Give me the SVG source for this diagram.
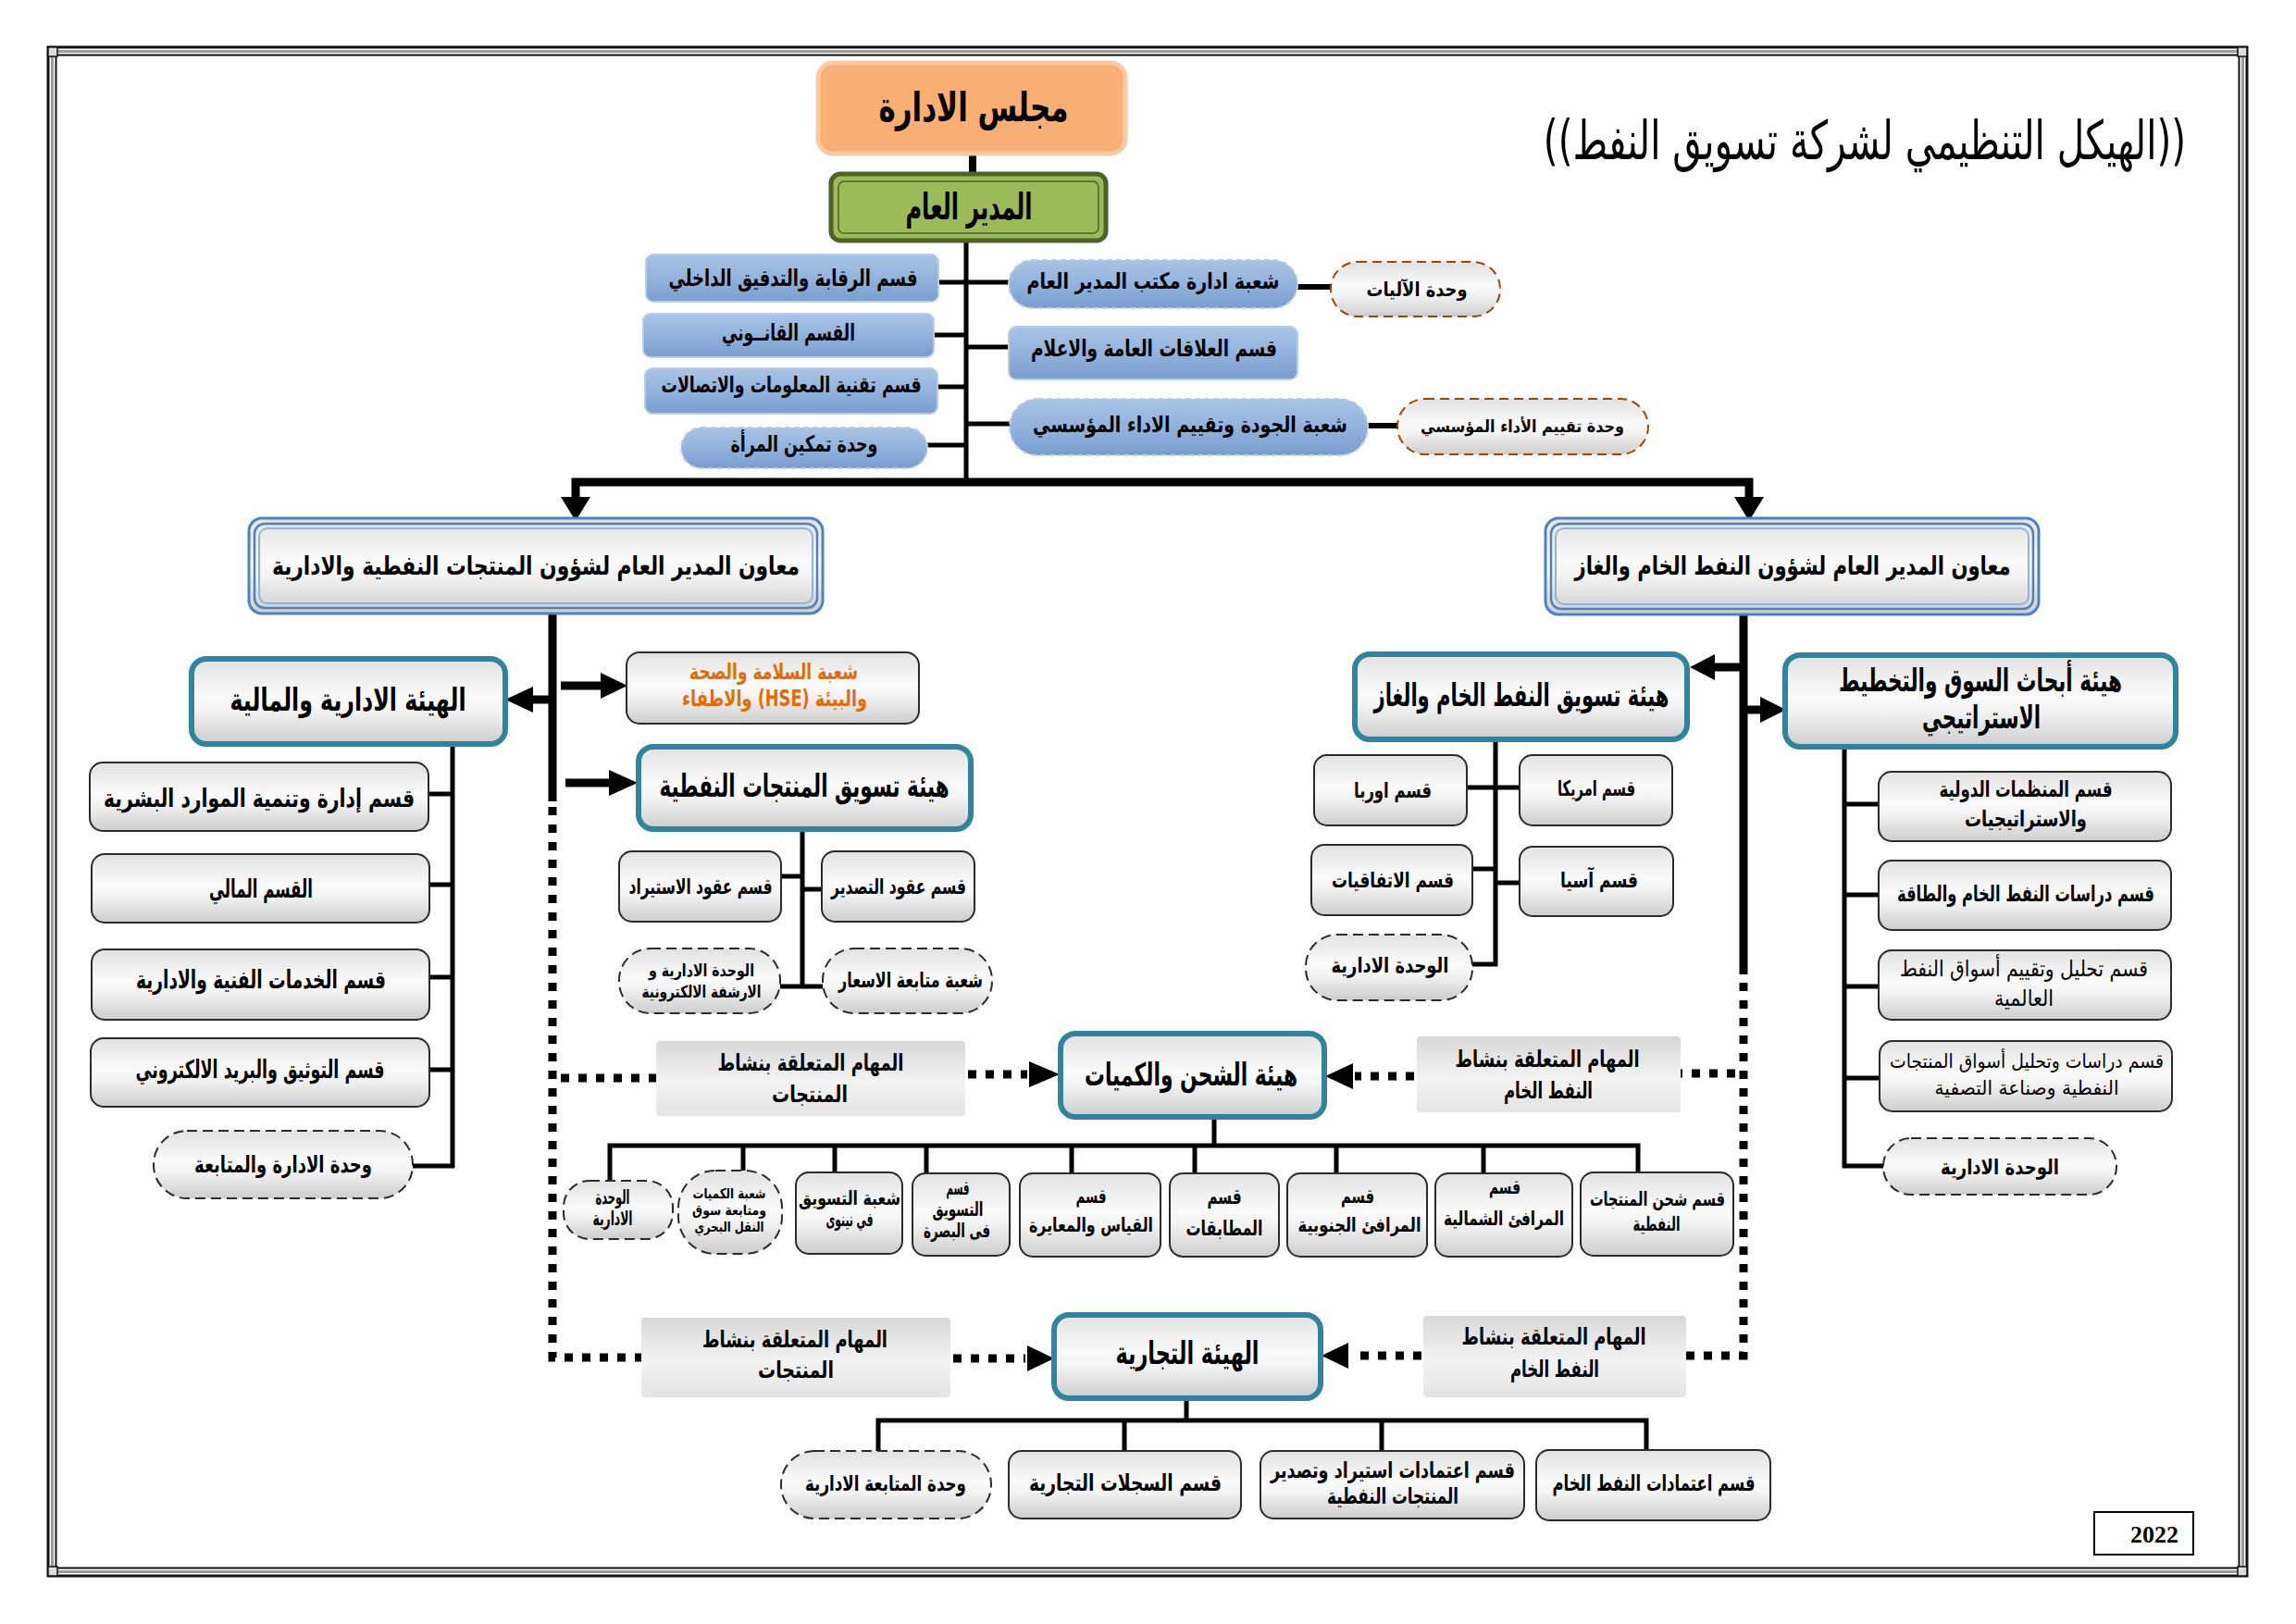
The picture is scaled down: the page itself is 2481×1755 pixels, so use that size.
<svg xmlns="http://www.w3.org/2000/svg" width="2481" height="1755" viewBox="0 0 2481 1755">
<defs>
<linearGradient id="gGray" x1="0" y1="0" x2="0" y2="1">
<stop offset="0" stop-color="#E2E2E2"/><stop offset="0.45" stop-color="#FAFAFA"/><stop offset="0.6" stop-color="#F4F4F4"/><stop offset="1" stop-color="#CDCDCD"/>
</linearGradient>
<linearGradient id="gBlue" x1="0" y1="0" x2="0" y2="1">
<stop offset="0" stop-color="#A9C3E5"/><stop offset="0.5" stop-color="#93B3DD"/><stop offset="1" stop-color="#7A9DCF"/>
</linearGradient>
<linearGradient id="gTask" x1="0" y1="0" x2="0" y2="1">
<stop offset="0" stop-color="#D8D8D8"/><stop offset="0.55" stop-color="#F3F3F3"/><stop offset="1" stop-color="#E4E4E4"/>
</linearGradient>
<style>
.box{fill:url(#gGray);stroke:#2b2b2b;stroke-width:2}
.dash{fill:url(#gGray);stroke:#2b2b2b;stroke-width:2;stroke-dasharray:11 6}
.teal{fill:url(#gGray);stroke:#31849B;stroke-width:6}
.blue{fill:url(#gBlue);stroke:#B9CDE5;stroke-width:2}
.bluedash{fill:url(#gBlue);stroke:#B9CDE5;stroke-width:2;stroke-dasharray:6 4}
.brown{fill:url(#gGray);stroke:#984807;stroke-width:2;stroke-dasharray:10 6}
.task{fill:url(#gTask);stroke:none}
.dep1{fill:url(#gGray);stroke:#4F81BD;stroke-width:3}
.dep2{fill:none;stroke:#4F81BD;stroke-width:2.5}
.dep3{fill:none;stroke:#8DB3E2;stroke-width:2}
.ln{stroke:#000;fill:none;stroke-width:5}
.thick{stroke:#000;stroke-width:9;fill:none}
.dot{stroke:#000;stroke-width:9;stroke-dasharray:9 10;fill:none}
.ah{fill:#000}
.fr1{fill:none;stroke:#111;stroke-width:3}
.fr2{fill:none;stroke:#9A9A9A;stroke-width:3}
.fr3{fill:none;stroke:#111;stroke-width:2}
.tx{font-family:"DejaVu Sans",sans-serif;font-weight:bold;text-anchor:middle;direction:rtl;fill:#000}
.reg{font-weight:normal}
.f15{font-size:15px}.f18{font-size:18px}.f19{font-size:19px}.f21{font-size:21px}.f23{font-size:23px}.f24{font-size:24px}.f25{font-size:25px}.f27{font-size:27px}.f28{font-size:28px}.f34{font-size:34px}.f40{font-size:40px}.f44{font-size:44px}
.orange{fill:#E36C0A}
</style>
</defs>
<rect width="2481" height="1755" fill="#FFFFFF"/>
<g id="frame">
<rect class="fr1" x="52" y="51" width="2376" height="1652"/>
<rect class="fr2" x="56.5" y="55.5" width="2367" height="1643"/>
<rect class="fr3" x="60.5" y="59.5" width="2359" height="1635"/>
<rect x="52" y="51" width="10" height="10" fill="#DDD" stroke="#111" stroke-width="1.5"/>
<rect x="2418" y="51" width="10" height="10" fill="#DDD" stroke="#111" stroke-width="1.5"/>
<rect x="52" y="1693" width="10" height="10" fill="#DDD" stroke="#111" stroke-width="1.5"/>
<rect x="2418" y="1693" width="10" height="10" fill="#DDD" stroke="#111" stroke-width="1.5"/>
</g>
<g id="title"><text transform="translate(2015,172) scale(0.70,1)" x="0" y="0" style="font-family:'DejaVu Sans',sans-serif;font-size:58px;text-anchor:middle;direction:ltr;fill:#000">((الهيكل التنظيمي لشركة تسويق النفط))</text></g>

<g id="connectors">
<line class="thick" x1="1051" y1="166" x2="1051" y2="188" style="stroke-width:8"/>
<line class="ln" x1="1044" y1="260" x2="1044" y2="521"/>
<line class="ln" x1="1014" y1="305" x2="1044" y2="305"/>
<line class="ln" x1="1009" y1="362" x2="1044" y2="362"/>
<line class="ln" x1="1013" y1="418" x2="1044" y2="418"/>
<line class="ln" x1="1002" y1="481" x2="1044" y2="481"/>
<line class="ln" x1="1044" y1="305" x2="1090" y2="305"/>
<line class="ln" x1="1044" y1="375" x2="1090" y2="375"/>
<line class="ln" x1="1044" y1="458" x2="1091" y2="458"/>
<line class="ln" x1="1402" y1="310" x2="1438" y2="310" style="stroke-width:6"/>
<line class="ln" x1="1478" y1="460" x2="1510" y2="460" style="stroke-width:6"/>
<path class="thick" d="M622,540 V521 H1890 V540"/>
<polygon class="ah" points="606,537 638,537 622,563"/>
<polygon class="ah" points="1874,537 1906,537 1890,563"/>
<line class="thick" x1="597" y1="663" x2="597" y2="866"/>
<path class="dot" d="M597,872 V1467 H693"/>
<line class="dot" x1="606" y1="1165" x2="709" y2="1165"/>
<line class="thick" x1="597" y1="756" x2="572" y2="756"/>
<polygon class="ah" points="576,742 576,770 546,756"/>
<line class="thick" x1="606" y1="741" x2="652" y2="741"/>
<polygon class="ah" points="649,727 649,755 678,741"/>
<line class="thick" x1="611" y1="846" x2="660" y2="846"/>
<polygon class="ah" points="658,832 658,860 689,846"/>
<line class="ln" x1="489" y1="804" x2="489" y2="1262"/>
<line class="ln" x1="463" y1="858" x2="489" y2="858"/>
<line class="ln" x1="464" y1="956" x2="489" y2="956"/>
<line class="ln" x1="464" y1="1056" x2="489" y2="1056"/>
<line class="ln" x1="464" y1="1156" x2="489" y2="1156"/>
<line class="ln" x1="446" y1="1260" x2="491" y2="1260"/>
<line class="ln" x1="867" y1="896" x2="867" y2="1068"/>
<line class="ln" x1="844" y1="947" x2="867" y2="947"/>
<line class="ln" x1="867" y1="961" x2="888" y2="961"/>
<line class="ln" x1="843" y1="1066" x2="889" y2="1066"/>
<line class="thick" x1="1884" y1="664" x2="1884" y2="1053"/>
<path class="dot" d="M1884,1062 V1465 H1822"/>
<line class="dot" x1="1875" y1="1160" x2="1816" y2="1160"/>
<line class="thick" x1="1884" y1="721" x2="1850" y2="721"/>
<polygon class="ah" points="1853,707 1853,735 1826,721"/>
<line class="thick" x1="1884" y1="767" x2="1905" y2="767"/>
<polygon class="ah" points="1902,753 1902,781 1930,767"/>
<line class="ln" x1="1616" y1="799" x2="1616" y2="1044"/>
<line class="ln" x1="1585" y1="851" x2="1642" y2="851"/>
<line class="ln" x1="1591" y1="939" x2="1616" y2="939"/>
<line class="ln" x1="1616" y1="954" x2="1642" y2="954"/>
<line class="ln" x1="1591" y1="1042" x2="1618" y2="1042"/>
<line class="ln" x1="1993" y1="807" x2="1993" y2="1262"/>
<line class="ln" x1="1993" y1="869" x2="2030" y2="869"/>
<line class="ln" x1="1993" y1="967" x2="2030" y2="967"/>
<line class="ln" x1="1993" y1="1066" x2="2030" y2="1066"/>
<line class="ln" x1="1993" y1="1165" x2="2031" y2="1165"/>
<line class="ln" x1="1991" y1="1260" x2="2035" y2="1260"/>
<line class="dot" x1="1046" y1="1161" x2="1110" y2="1161"/>
<polygon class="ah" points="1112,1147 1112,1175 1145,1161"/>
<line class="dot" x1="1528" y1="1163" x2="1464" y2="1163"/>
<polygon class="ah" points="1462,1149 1462,1177 1432,1163"/>
<line class="dot" x1="1030" y1="1468" x2="1108" y2="1468"/>
<polygon class="ah" points="1110,1454 1110,1482 1139,1468"/>
<line class="dot" x1="1536" y1="1465" x2="1460" y2="1465"/>
<polygon class="ah" points="1457,1451 1457,1479 1428,1465"/>
<line class="ln" x1="1312" y1="1207" x2="1312" y2="1238"/>
<path class="ln" d="M659,1276 V1238 H1770 V1267"/>
<line class="ln" x1="803" y1="1238" x2="803" y2="1265"/>
<line class="ln" x1="902" y1="1238" x2="902" y2="1267"/>
<line class="ln" x1="1001" y1="1238" x2="1001" y2="1268"/>
<line class="ln" x1="1158" y1="1238" x2="1158" y2="1268"/>
<line class="ln" x1="1291" y1="1238" x2="1291" y2="1268"/>
<line class="ln" x1="1444" y1="1238" x2="1444" y2="1268"/>
<line class="ln" x1="1603" y1="1238" x2="1603" y2="1268"/>
<line class="ln" x1="1282" y1="1511" x2="1282" y2="1535"/>
<path class="ln" d="M949,1568 V1535 H1779 V1567"/>
<line class="ln" x1="1215" y1="1535" x2="1215" y2="1568"/>
<line class="ln" x1="1493" y1="1535" x2="1493" y2="1568"/>
</g>

<g id="board"><rect x="884" y="68" width="332" height="98" rx="16" fill="#F9AE74" stroke="#FBC9A2" stroke-width="5"/><rect x="891" y="75" width="318" height="84" rx="11" fill="none" stroke="#F3B487" stroke-width="1.5"/><text class="tx f44" x="1052" y="131" textLength="205" lengthAdjust="spacingAndGlyphs">مجلس الادارة</text></g>
<g id="gm"><rect x="898" y="188" width="297" height="72" rx="10" fill="#9BBB59" stroke="#4F6228" stroke-width="5"/><rect x="906" y="196" width="281" height="56" rx="6" fill="none" stroke="#4F6228" stroke-width="1.5"/><text class="tx f40" x="1047" y="237" textLength="137" lengthAdjust="spacingAndGlyphs">المدير العام</text></g>

<g id="b1"><rect class="blue" x="698" y="275" width="316" height="51" rx="8"/><text class="tx f25" x="857" y="309" textLength="269" lengthAdjust="spacingAndGlyphs">قسم الرقابة والتدقيق الداخلي</text></g>
<g id="b2"><rect class="blue" x="695" y="339" width="314" height="47" rx="8"/><text class="tx f25" x="852" y="368" textLength="144" lengthAdjust="spacingAndGlyphs">القسم القانــوني</text></g>
<g id="b3"><rect class="blue" x="697" y="398" width="316" height="49" rx="8"/><text class="tx f24" x="855" y="424" textLength="281" lengthAdjust="spacingAndGlyphs">قسم تقنية المعلومات والاتصالات</text></g>
<g id="b4"><rect class="bluedash" x="736" y="462" width="266" height="44" rx="22"/><text class="tx f24" x="869" y="488" textLength="159" lengthAdjust="spacingAndGlyphs">وحدة تمكين المرأة</text></g>
<g id="b5"><rect class="bluedash" x="1090" y="281" width="312" height="52" rx="26"/><text class="tx f24" x="1246" y="312" textLength="273" lengthAdjust="spacingAndGlyphs">شعبة ادارة مكتب المدير العام</text></g>
<g id="b6"><rect class="blue" x="1090" y="353" width="312" height="57" rx="8"/><text class="tx f25" x="1247" y="385" textLength="266" lengthAdjust="spacingAndGlyphs">قسم العلاقات العامة والاعلام</text></g>
<g id="b7"><rect class="bluedash" x="1091" y="431" width="387" height="61" rx="30"/><text class="tx f24" x="1286" y="467" textLength="340" lengthAdjust="spacingAndGlyphs">شعبة الجودة وتقييم الاداء المؤسسي</text></g>
<g id="u1"><rect class="brown" x="1438" y="283" width="183" height="59" rx="29"/><text class="tx f21" x="1531" y="320" textLength="109" lengthAdjust="spacingAndGlyphs">وحدة الآليات</text></g>
<g id="u2"><rect class="brown" x="1510" y="431" width="271" height="60" rx="30"/><text class="tx f18" x="1645" y="467" textLength="220" lengthAdjust="spacingAndGlyphs">وحدة تقييم الأداء المؤسسي</text></g>

<g id="dep-left"><rect class="dep1" x="269" y="560" width="620" height="103" rx="14"/><rect class="dep2" x="275" y="566" width="608" height="91" rx="11"/><rect class="dep3" x="280" y="571" width="598" height="81" rx="9"/><text class="tx f28" x="579" y="621" textLength="570" lengthAdjust="spacingAndGlyphs">معاون المدير العام لشؤون المنتجات النفطية والادارية</text></g>
<g id="dep-right"><rect class="dep1" x="1670" y="560" width="533" height="104" rx="14"/><rect class="dep2" x="1676" y="566" width="521" height="92" rx="11"/><rect class="dep3" x="1681" y="571" width="511" height="82" rx="9"/><text class="tx f28" x="1937" y="621" textLength="471" lengthAdjust="spacingAndGlyphs">معاون المدير العام لشؤون النفط الخام والغاز</text></g>

<g id="t1"><rect class="teal" x="207" y="712" width="339" height="92" rx="16"/><text class="tx f34" x="376" y="768" textLength="255" lengthAdjust="spacingAndGlyphs">الهيئة الادارية والمالية</text></g>
<g id="g1"><rect class="box" x="97" y="824" width="366" height="74" rx="14"/><text class="tx f27" x="280" y="872" textLength="336" lengthAdjust="spacingAndGlyphs">قسم إدارة وتنمية الموارد البشرية</text></g>
<g id="g2"><rect class="box" x="99" y="923" width="365" height="74" rx="14"/><text class="tx f27" x="282" y="970" textLength="112" lengthAdjust="spacingAndGlyphs">القسم المالي</text></g>
<g id="g3"><rect class="box" x="99" y="1026" width="365" height="76" rx="14"/><text class="tx f27" x="282" y="1068" textLength="270" lengthAdjust="spacingAndGlyphs">قسم الخدمات الفنية والادارية</text></g>
<g id="g4"><rect class="box" x="98" y="1122" width="366" height="74" rx="14"/><text class="tx f27" x="281" y="1165" textLength="269" lengthAdjust="spacingAndGlyphs">قسم التوثيق والبريد الالكتروني</text></g>
<g id="g5"><rect class="dash" x="166" y="1222" width="280" height="73" rx="36"/><text class="tx f25" x="306" y="1267" textLength="192" lengthAdjust="spacingAndGlyphs">وحدة الادارة والمتابعة</text></g>

<g id="hse"><rect class="box" x="677" y="705" width="316" height="77" rx="14"/><text class="tx f24 orange" x="836" y="734" textLength="182" lengthAdjust="spacingAndGlyphs">شعبة السلامة والصحة</text><text class="tx f24 orange" x="837" y="763" textLength="200" lengthAdjust="spacingAndGlyphs">والبيئة (HSE) والاطفاء</text></g>
<g id="t2"><rect class="teal" x="690" y="807" width="359" height="89" rx="16"/><text class="tx f34" x="869" y="861" textLength="313" lengthAdjust="spacingAndGlyphs">هيئة تسويق المنتجات النفطية</text></g>
<g id="g6"><rect class="box" x="669" y="920" width="175" height="76" rx="14"/><text class="tx f23" x="757" y="966" textLength="155" lengthAdjust="spacingAndGlyphs">قسم عقود الاستيراد</text></g>
<g id="g7"><rect class="box" x="888" y="920" width="165" height="76" rx="14"/><text class="tx f23" x="971" y="966" textLength="146" lengthAdjust="spacingAndGlyphs">قسم عقود التصدير</text></g>
<g id="g8"><rect class="dash" x="669" y="1025" width="174" height="70" rx="34"/><text class="tx f18" x="758" y="1055" textLength="114" lengthAdjust="spacingAndGlyphs">الوحدة الادارية و</text><text class="tx f18" x="758" y="1078" textLength="129" lengthAdjust="spacingAndGlyphs">الارشفة الالكترونية</text></g>
<g id="g9"><rect class="dash" x="889" y="1025" width="183" height="70" rx="34"/><text class="tx f23" x="984" y="1067" textLength="156" lengthAdjust="spacingAndGlyphs">شعبة متابعة الاسعار</text></g>

<g id="t5"><rect class="teal" x="1464" y="707" width="359" height="92" rx="16"/><text class="tx f34" x="1644" y="763" textLength="319" lengthAdjust="spacingAndGlyphs">هيئة تسويق النفط الخام والغاز</text></g>
<g id="r1"><rect class="box" x="1420" y="816" width="165" height="76" rx="14"/><text class="tx f23" x="1505" y="862" textLength="84" lengthAdjust="spacingAndGlyphs">قسم اوربا</text></g>
<g id="r2"><rect class="box" x="1642" y="816" width="165" height="76" rx="14"/><text class="tx f23" x="1725" y="860" textLength="84" lengthAdjust="spacingAndGlyphs">قسم امريكا</text></g>
<g id="r3"><rect class="box" x="1417" y="913" width="174" height="76" rx="14"/><text class="tx f23" x="1505" y="959" textLength="132" lengthAdjust="spacingAndGlyphs">قسم الاتفاقيات</text></g>
<g id="r4"><rect class="box" x="1642" y="915" width="166" height="75" rx="14"/><text class="tx f23" x="1728" y="959" textLength="84" lengthAdjust="spacingAndGlyphs">قسم آسيا</text></g>
<g id="r5"><rect class="dash" x="1411" y="1010" width="180" height="71" rx="34"/><text class="tx f23" x="1502" y="1051" textLength="127" lengthAdjust="spacingAndGlyphs">الوحدة الادارية</text></g>

<g id="t6"><rect class="teal" x="1929" y="708" width="422" height="99" rx="16"/><text class="tx f34" x="2140" y="747" textLength="306" lengthAdjust="spacingAndGlyphs">هيئة أبحاث السوق والتخطيط</text><text class="tx f34" x="2141" y="787" textLength="128" lengthAdjust="spacingAndGlyphs">الاستراتيجي</text></g>
<g id="r6"><rect class="box" x="2030" y="834" width="316" height="75" rx="14"/><text class="tx f24" x="2189" y="861" textLength="187" lengthAdjust="spacingAndGlyphs">قسم المنظمات الدولية</text><text class="tx f24" x="2189" y="893" textLength="132" lengthAdjust="spacingAndGlyphs">والاستراتيجيات</text></g>
<g id="r7"><rect class="box" x="2030" y="930" width="316" height="75" rx="14"/><text class="tx f24" x="2189" y="974" textLength="278" lengthAdjust="spacingAndGlyphs">قسم دراسات النفط الخام والطاقة</text></g>
<g id="r8"><rect class="box" x="2030" y="1027" width="316" height="75" rx="14"/><text class="tx f24 reg" x="2187" y="1055" textLength="268" lengthAdjust="spacingAndGlyphs">قسم تحليل وتقييم أسواق النفط</text><text class="tx f24 reg" x="2187" y="1087" textLength="64" lengthAdjust="spacingAndGlyphs">العالمية</text></g>
<g id="r9"><rect class="box" x="2031" y="1125" width="316" height="76" rx="14"/><text class="tx f21 reg" x="2190" y="1154" textLength="296" lengthAdjust="spacingAndGlyphs">قسم دراسات وتحليل أسواق المنتجات</text><text class="tx f21 reg" x="2190" y="1183" textLength="199" lengthAdjust="spacingAndGlyphs">النفطية وصناعة التصفية</text></g>
<g id="r10"><rect class="dash" x="2035" y="1230" width="252" height="61" rx="30"/><text class="tx f23" x="2161" y="1269" textLength="128" lengthAdjust="spacingAndGlyphs">الوحدة الادارية</text></g>

<g id="m1"><rect class="task" x="709" y="1125" width="334" height="81" rx="4"/><text class="tx f25" x="876" y="1157" textLength="201" lengthAdjust="spacingAndGlyphs">المهام المتعلقة بنشاط</text><text class="tx f25" x="875" y="1191" textLength="82" lengthAdjust="spacingAndGlyphs">المنتجات</text></g>
<g id="m2"><rect class="task" x="1531" y="1120" width="285" height="82" rx="4"/><text class="tx f25" x="1672" y="1153" textLength="199" lengthAdjust="spacingAndGlyphs">المهام المتعلقة بنشاط</text><text class="tx f25" x="1673" y="1187" textLength="96" lengthAdjust="spacingAndGlyphs">النفط الخام</text></g>
<g id="m3"><rect class="task" x="693" y="1424" width="334" height="86" rx="4"/><text class="tx f25" x="859" y="1456" textLength="200" lengthAdjust="spacingAndGlyphs">المهام المتعلقة بنشاط</text><text class="tx f25" x="860" y="1489" textLength="82" lengthAdjust="spacingAndGlyphs">المنتجات</text></g>
<g id="m4"><rect class="task" x="1538" y="1422" width="284" height="88" rx="4"/><text class="tx f25" x="1679" y="1453" textLength="199" lengthAdjust="spacingAndGlyphs">المهام المتعلقة بنشاط</text><text class="tx f25" x="1680" y="1488" textLength="96" lengthAdjust="spacingAndGlyphs">النفط الخام</text></g>

<g id="t3"><rect class="teal" x="1146" y="1117" width="285" height="90" rx="16"/><text class="tx f34" x="1287" y="1173" textLength="230" lengthAdjust="spacingAndGlyphs">هيئة الشحن والكميات</text></g>
<g id="s1"><rect class="dash" x="609" y="1276" width="118" height="63" rx="28"/><text class="tx f21" x="662" y="1301" textLength="37" lengthAdjust="spacingAndGlyphs">الوحدة</text><text class="tx f21" x="662" y="1324" textLength="43" lengthAdjust="spacingAndGlyphs">الادارية</text></g>
<g id="s2"><rect class="dash" x="733" y="1265" width="112" height="90" rx="40"/><text class="tx f15" x="788" y="1295" textLength="79" lengthAdjust="spacingAndGlyphs">شعبة الكميات</text><text class="tx f15" x="788" y="1313" textLength="80" lengthAdjust="spacingAndGlyphs">ومتابعة سوق</text><text class="tx f15" x="788" y="1331" textLength="75" lengthAdjust="spacingAndGlyphs">النقل البحري</text></g>
<g id="s3"><rect class="box" x="860" y="1267" width="115" height="88" rx="14"/><text class="tx f21" x="918" y="1302" textLength="110" lengthAdjust="spacingAndGlyphs">شعبة التسويق</text><text class="tx f21" x="918" y="1325" textLength="51" lengthAdjust="spacingAndGlyphs">في نينوى</text></g>
<g id="s4"><rect class="box" x="986" y="1268" width="105" height="89" rx="14"/><text class="tx f21" x="1035" y="1291" textLength="25" lengthAdjust="spacingAndGlyphs">قسم</text><text class="tx f21" x="1035" y="1314" textLength="55" lengthAdjust="spacingAndGlyphs">التسويق</text><text class="tx f21" x="1034" y="1337" textLength="72" lengthAdjust="spacingAndGlyphs">فى البصرة</text></g>
<g id="s5"><rect class="box" x="1102" y="1268" width="152" height="90" rx="14"/><text class="tx f21" x="1179" y="1300" textLength="33" lengthAdjust="spacingAndGlyphs">قسم</text><text class="tx f21" x="1179" y="1331" textLength="134" lengthAdjust="spacingAndGlyphs">القياس والمعايرة</text></g>
<g id="s6"><rect class="box" x="1264" y="1268" width="118" height="90" rx="14"/><text class="tx f23" x="1323" y="1301" textLength="37" lengthAdjust="spacingAndGlyphs">قسم</text><text class="tx f23" x="1323" y="1335" textLength="83" lengthAdjust="spacingAndGlyphs">المطابقات</text></g>
<g id="s7"><rect class="box" x="1391" y="1268" width="151" height="90" rx="14"/><text class="tx f21" x="1467" y="1300" textLength="36" lengthAdjust="spacingAndGlyphs">قسم</text><text class="tx f21" x="1469" y="1331" textLength="133" lengthAdjust="spacingAndGlyphs">المرافئ الجنوبية</text></g>
<g id="s8"><rect class="box" x="1551" y="1268" width="148" height="90" rx="14"/><text class="tx f21" x="1626" y="1290" textLength="34" lengthAdjust="spacingAndGlyphs">قسم</text><text class="tx f21" x="1625" y="1324" textLength="130" lengthAdjust="spacingAndGlyphs">المرافئ الشمالية</text></g>
<g id="s9"><rect class="box" x="1708" y="1267" width="165" height="90" rx="14"/><text class="tx f21" x="1791" y="1303" textLength="146" lengthAdjust="spacingAndGlyphs">قسم شحن المنتجات</text><text class="tx f21" x="1790" y="1330" textLength="51" lengthAdjust="spacingAndGlyphs">النفطية</text></g>

<g id="t4"><rect class="teal" x="1139" y="1421" width="288" height="90" rx="16"/><text class="tx f34" x="1283" y="1474" textLength="155" lengthAdjust="spacingAndGlyphs">الهيئة التجارية</text></g>
<g id="c1"><rect class="dash" x="844" y="1568" width="227" height="73" rx="36"/><text class="tx f23" x="957" y="1611" textLength="174" lengthAdjust="spacingAndGlyphs">وحدة المتابعة الادارية</text></g>
<g id="c2"><rect class="box" x="1090" y="1568" width="251" height="73" rx="14"/><text class="tx f25" x="1216" y="1611" textLength="208" lengthAdjust="spacingAndGlyphs">قسم السجلات التجارية</text></g>
<g id="c3"><rect class="box" x="1362" y="1568" width="285" height="73" rx="14"/><text class="tx f24" x="1505" y="1597" textLength="264" lengthAdjust="spacingAndGlyphs">قسم اعتمادات استيراد وتصدير</text><text class="tx f24" x="1505" y="1625" textLength="142" lengthAdjust="spacingAndGlyphs">المنتجات النفطية</text></g>
<g id="c4"><rect class="box" x="1660" y="1567" width="253" height="76" rx="14"/><text class="tx f24" x="1787" y="1611" textLength="219" lengthAdjust="spacingAndGlyphs">قسم اعتمادات النفط الخام</text></g>

<g id="year"><rect x="2263" y="1634" width="107" height="46" fill="none" stroke="#000" stroke-width="2"/><text x="2328" y="1667" style="font-family:'Liberation Serif',serif;font-weight:bold;font-size:26px;text-anchor:middle">2022</text></g>
</svg>
